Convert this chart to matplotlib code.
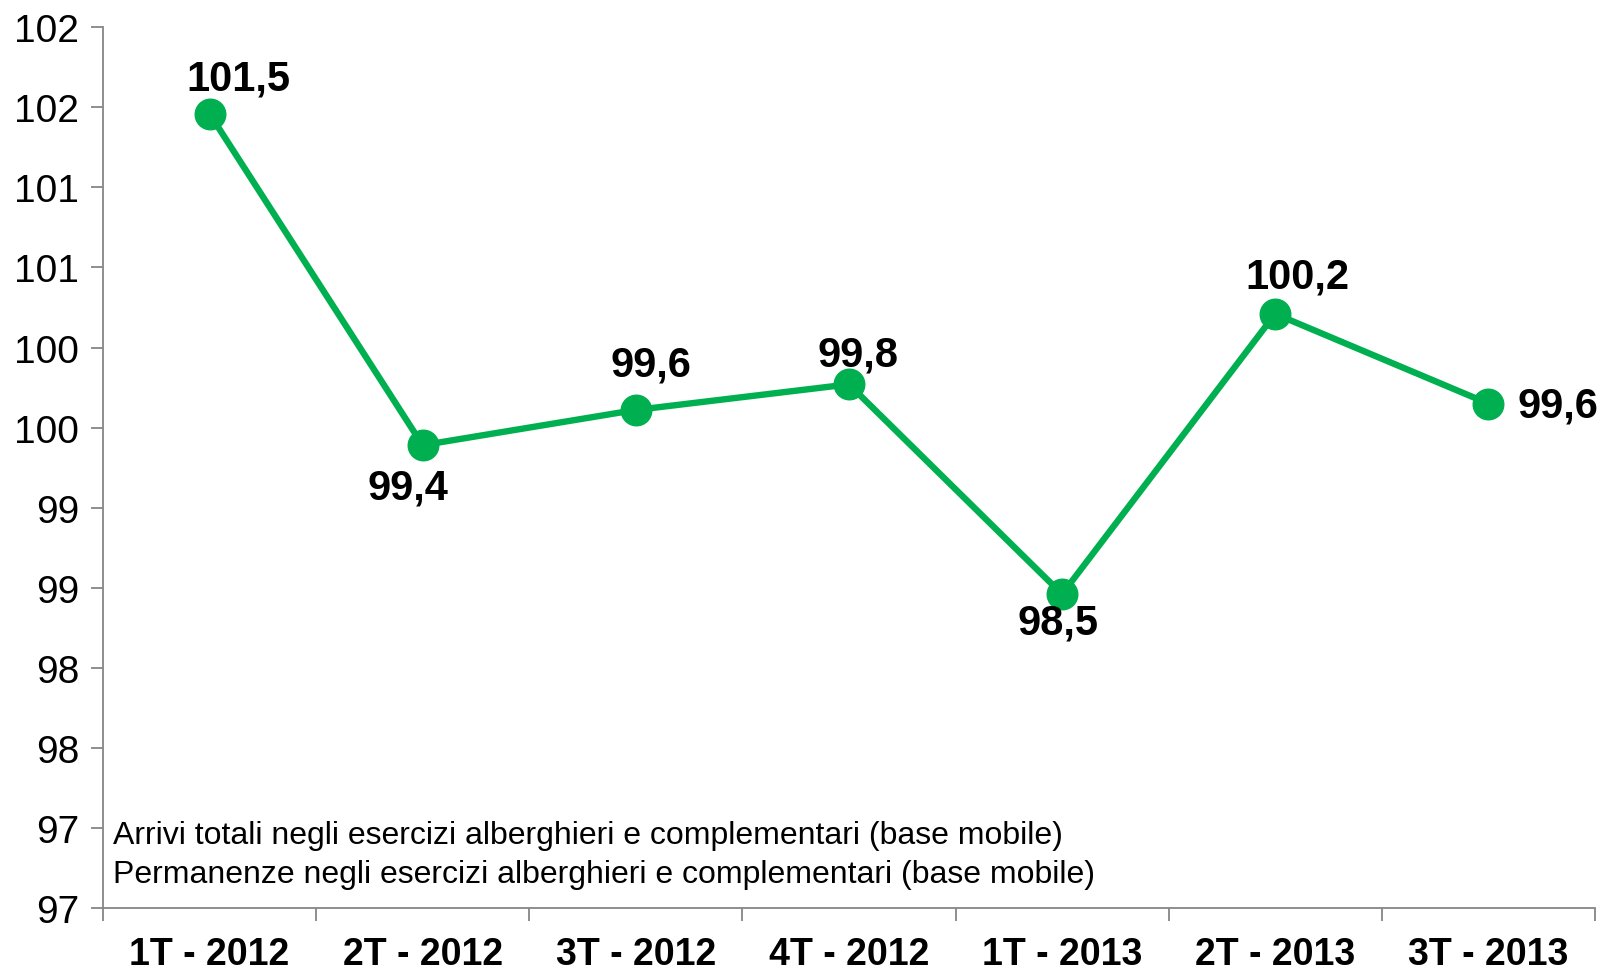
import matplotlib.pyplot as plt
from matplotlib.ticker import FuncFormatter, MultipleLocator
import numpy as np

plt.rcParams['font.family'] = ['Liberation Sans', 'DejaVu Sans']

# trimestri e indice (base mobile)
quarters = ["1T - 2012", "2T - 2012", "3T - 2012", "4T - 2012",
            "1T - 2013", "2T - 2013", "3T - 2013"]
arrivi = [101.46, 99.39, 99.61, 99.77, 98.46, 100.21, 99.65]
labels = ["101,5", "99,4", "99,6", "99,8", "98,5", "100,2", "99,6"]
legend_lines = ["Arrivi totali negli esercizi alberghieri e complementari (base mobile)",
                "Permanenze negli esercizi alberghieri e complementari (base mobile)"]

# posizione delle etichette (pixel rispetto al punto)
lab_off = [(29, 35), (-15, -42), (15, 45), (9, 30), (-4, -28), (22, 37), (70, -2)]

green = "#00B050"
grey = "#868686"

fig = plt.figure(figsize=(16.06, 9.70), dpi=100)
ax = fig.add_axes([0.0641, 0.0629, 0.929, 0.908])

x = np.arange(len(quarters))
ax.plot(x, arrivi, color=green, lw=4.6, marker="o", ms=22, zorder=3)

for i, (v, t) in enumerate(zip(arrivi, labels)):
    ax.annotate(t, (x[i], v), xytext=lab_off[i], textcoords="offset pixels",
                ha="center", va="center", fontsize=30, fontweight="bold")

ax.set_xlim(-0.5, len(quarters) - 0.5)
ax.set_ylim(96.5, 102)
ax.yaxis.set_major_locator(MultipleLocator(0.5))
ax.yaxis.set_major_formatter(FuncFormatter(lambda v, p: f"{int(np.floor(v + 0.5))}"))

ax.set_xticks(np.arange(-0.5, len(quarters), 1.0))
ax.set_xticklabels([])
ax.set_xticks(x, minor=True)
ax.set_xticklabels(quarters, minor=True, fontsize=27, fontweight="bold")
ax.tick_params(axis="x", which="minor", length=0, pad=20)
ax.tick_params(axis="x", which="major", length=9, color=grey, width=1.3)
ax.tick_params(axis="y", length=9, color=grey, width=1.3, labelsize=28, pad=8)

for s in ["top", "right"]:
    ax.spines[s].set_visible(False)
for s in ["left", "bottom"]:
    ax.spines[s].set_color(grey)
    ax.spines[s].set_linewidth(1.3)

ax.text(0.0067, 0.083, legend_lines[0], transform=ax.transAxes, fontsize=23, va="center")
ax.text(0.0067, 0.039, legend_lines[1], transform=ax.transAxes, fontsize=23, va="center")

fig.savefig("out.png", dpi=100)
